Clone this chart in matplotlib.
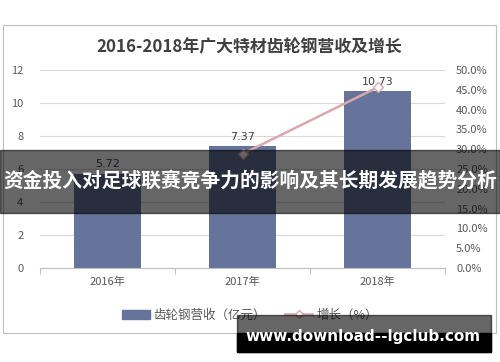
import numpy as np
import matplotlib.pyplot as plt
from matplotlib.patches import Rectangle
from matplotlib.lines import Line2D

plt.rcParams['font.family'] = ['Noto Sans CJK SC', 'DejaVu Sans']

years = ['2016年', '2017年', '2018年']
revenue = [5.72, 7.37, 10.73]
growth = [np.nan, 28.8, 45.6]
left_ticks = [0, 2, 4, 6, 8, 10, 12]
right_ticks = [0, 5, 10, 15, 20, 25, 30, 35, 40, 45, 50]

bar_color = '#66739b'
line_color = '#d8a9ae'
text_color = '#595959'

fig = plt.figure(figsize=(5, 3.62), dpi=100)

# chart border
fig.patches.append(Rectangle((3 / 500, 1 - 333 / 362), 493 / 500, 308 / 362,
                             transform=fig.transFigure, fill=False,
                             edgecolor='#bfbfbf', linewidth=0.8))

ax = fig.add_axes([0.08, 0.2597, 0.81, 0.547])
x = np.arange(len(years))
ax.bar(x, revenue, width=0.5, color=bar_color, zorder=2)
for xi, v in zip(x, revenue):
    ax.text(xi, v + 0.25, f'{v:.2f}', ha='center', va='bottom',
            fontsize=8, color='#404040', family='DejaVu Sans')

ax.set_xlim(-0.5, 2.5)
ax.set_ylim(0, 12)
ax.set_yticks(left_ticks)
ax.yaxis.grid(True, color='#d9d9d9', linewidth=0.8)
ax.set_axisbelow(True)
ax.set_xticks([-0.5, 0.5, 1.5, 2.5])
ax.set_xticklabels([])
ax.set_xticks(x, minor=True)
ax.set_xticklabels(years, minor=True)
ax.tick_params(axis='x', which='major', length=4, color='#bfbfbf')
ax.tick_params(axis='x', which='minor', length=0, labelsize=8,
               labelcolor=text_color, pad=6)
ax.tick_params(axis='y', length=0, labelsize=8, labelcolor=text_color, pad=12)
for s in ['top', 'right', 'left']:
    ax.spines[s].set_visible(False)
ax.spines['bottom'].set_color('#bfbfbf')

ax2 = ax.twinx()
ax2.plot(x, growth, color=line_color, linewidth=1.8, marker='D',
         markersize=5, markerfacecolor='white', markeredgecolor=line_color,
         zorder=3)
ax2.set_ylim(0, 50)
ax2.set_yticks(right_ticks)
ax2.set_yticklabels([f'{t:.1f}%' for t in right_ticks])
ax2.tick_params(axis='y', length=0, labelsize=8, labelcolor=text_color, pad=8)
for s in ['top', 'right', 'left', 'bottom']:
    ax2.spines[s].set_visible(False)

fig.text(0.498, 1 - 47 / 362, '2016-2018年广大特材齿轮钢营收及增长',
         ha='center', va='center', fontsize=12.2, fontweight='bold',
         color='#404040')

handles = [Rectangle((0, 0), 1, 1, color=bar_color),
           Line2D([0], [0], color=line_color, linewidth=1.8, marker='D',
                  markersize=4, markerfacecolor='white')]
fig.legend(handles, ['齿轮钢营收（亿元）', '增长（%）'], loc='center',
           bbox_to_anchor=(0.5, 1 - 315 / 362), ncol=2, frameon=False,
           fontsize=9, labelcolor=text_color, handlelength=2.2,
           handletextpad=0.3, columnspacing=1.5)

# overlay banner
fig.patches.append(Rectangle((0, 1 - 213 / 362), 1, 63 / 362,
                             transform=fig.transFigure, color='black',
                             alpha=0.6, zorder=10))
fig.text(0.5, 1 - 181 / 362, '资金投入对足球联赛竞争力的影响及其长期发展趋势分析',
         ha='center', va='center', fontsize=14.2, fontweight='bold',
         color='white', zorder=11)

# watermark
fig.patches.append(Rectangle((237 / 500, 1 - 352 / 362), 254 / 500, 37 / 362,
                             transform=fig.transFigure, color='black',
                             alpha=0.6, zorder=10))
fig.patches.append(Rectangle((237 / 500, 1 - 352 / 362), 254 / 500, 19 / 362,
                             transform=fig.transFigure, color='black',
                             zorder=10))
fig.text(363 / 500, 1 - 336 / 362, 'www.download--lgclub.com',
         ha='center', va='center', fontsize=11, fontweight='bold',
         color='white', family='DejaVu Sans', zorder=11)

fig.savefig('out.png', dpi=100)
